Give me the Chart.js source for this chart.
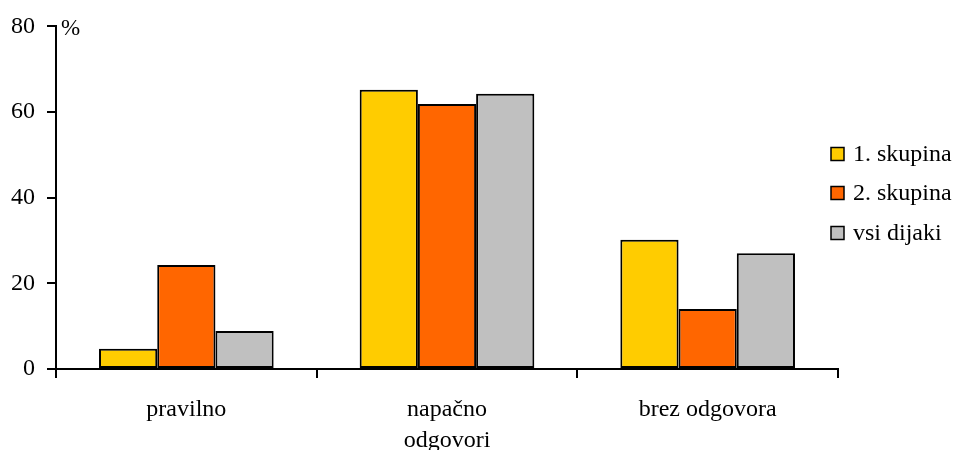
<!DOCTYPE html>
<html>
<head>
<meta charset="utf-8">
<script src="https://cdn.jsdelivr.net/npm/chart.js@4/dist/chart.umd.min.js"></script>
<style>
  html, body { margin: 0; padding: 0; background: #ffffff; }
  #wrap { width: 955px; height: 450px; position: relative; }
</style>
</head>
<body>
<div id="wrap"><canvas id="c"></canvas></div>
<script>
// Answer categories and share of students (%) per group
const categories = ['pravilno', 'napačno', 'brez odgovora'];
const seriesNames = ['1. skupina', '2. skupina', 'vsi dijaki'];
const group1 = [4.7, 65.2, 30.2];
const group2 = [24.3, 61.9, 14.0];
const allStudents = [8.9, 64.3, 27.0];
const yTicks = [0, 20, 40, 60, 80];
const axisTitle = 'odgovori';
const unitLabel = '%';

const colors = ['#FFCC00', '#FF6600', '#C0C0C0'];
const FONT = "'Liberation Serif', 'Times New Roman', serif";

// Unit label beside the top of the value axis and a legend at the right
const extrasPlugin = {
  id: 'extras',
  afterDraw(chart) {
    const ctx = chart.ctx;
    ctx.save();
    ctx.fillStyle = '#000';
    ctx.textAlign = 'left';
    ctx.textBaseline = 'middle';
    ctx.font = '23px ' + FONT;
    ctx.fillText(unitLabel, chart.chartArea.left + 5, chart.chartArea.top + 3);

    ctx.font = '24px ' + FONT;
    const rowY = [154, 193, 233];
    chart.data.datasets.forEach((ds, i) => {
      const y = rowY[i];
      ctx.fillStyle = ds.backgroundColor;
      ctx.fillRect(831, y - 6.5, 13, 13);
      ctx.strokeStyle = '#000';
      ctx.lineWidth = 1.5;
      ctx.strokeRect(831, y - 6.5, 13, 13);
      ctx.fillStyle = '#000';
      ctx.fillText(ds.label, 853, y + 1);
    });
    ctx.restore();
  }
};

const datasets = [group1, group2, allStudents].map((vals, i) => ({
  label: seriesNames[i],
  data: vals,
  backgroundColor: colors[i],
  borderColor: '#000',
  borderWidth: 2,
  borderSkipped: false,
  categoryPercentage: 0.67,
  barPercentage: 1.0
}));

new Chart(document.getElementById('c'), {
  type: 'bar',
  data: { labels: categories, datasets },
  plugins: [extrasPlugin],
  options: {
    responsive: true,
    maintainAspectRatio: false,
    animation: false,
    layout: { padding: { top: 25, right: 117, bottom: 0, left: 0 } },
    plugins: {
      legend: { display: false },
      tooltip: { enabled: false }
    },
    scales: {
      x: {
        offset: true,
        border: { display: true, color: '#000', width: 2 },
        grid: {
          offset: true,
          drawOnChartArea: false,
          drawTicks: true,
          tickLength: 9,
          color: '#000',
          lineWidth: 2
        },
        ticks: {
          color: '#000',
          font: { family: FONT, size: 24 },
          padding: 17,
          maxRotation: 0,
          autoSkip: false
        },
        title: {
          display: true,
          text: axisTitle,
          color: '#000',
          font: { family: FONT, size: 24, lineHeight: 0.8 },
          padding: { top: 0, bottom: 0 }
        },
        afterFit(scale) { scale.height = 81; }
      },
      y: {
        min: 0,
        max: 80,
        afterBuildTicks(scale) { scale.ticks = yTicks.map(v => ({ value: v })); },
        border: { display: true, color: '#000', width: 2 },
        grid: {
          drawOnChartArea: false,
          drawTicks: true,
          tickLength: 9,
          color: '#000',
          lineWidth: 2
        },
        ticks: {
          color: '#000',
          font: { family: FONT, size: 24 },
          padding: 12
        },
        afterFit(scale) { scale.width = 56; }
      }
    }
  }
});
</script>
</body>
</html>
